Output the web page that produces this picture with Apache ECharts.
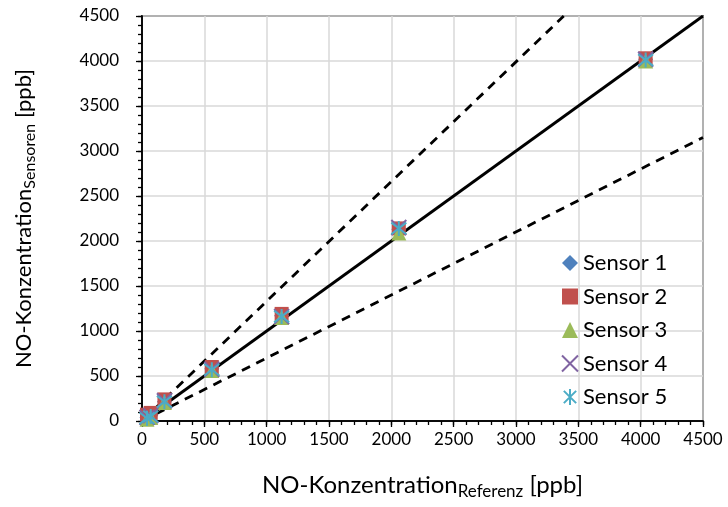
<!DOCTYPE html>
<html>
<head>
<meta charset="utf-8">
<script src="https://cdn.jsdelivr.net/npm/echarts@6/dist/echarts.min.js"></script>
<style>html,body{margin:0;padding:0;background:#fff}#c{width:728px;height:507px}</style>
</head>
<body>
<div id="c"></div>
<script>
const seriesNames = ['Sensor 1', 'Sensor 2', 'Sensor 3', 'Sensor 4', 'Sensor 5'];
const refValues = [40, 70, 180, 560, 1120, 2060, 4040];
const sensor1 = [40, 60, 215, 580, 1170, 2130, 4020];
const sensor2 = [70, 90, 240, 600, 1190, 2140, 4030];
const sensor3 = [20, 40, 205, 560, 1150, 2090, 4000];
const sensor4 = [40, 60, 225, 575, 1160, 2150, 4020];
const sensor5 = [30, 50, 215, 570, 1160, 2140, 4010];
const oneToOne = [[0, 0], [4500, 4500]];
const upperBound = [[0, 0], [3383, 4500]];
const lowerBound = [[0, 0], [4500, 3150]];
const axisTicks = [0, 500, 1000, 1500, 2000, 2500, 3000, 3500, 4000, 4500];

const colors = ['#4F81BD', '#C0504D', '#9BBB59', '#8064A2', '#4BACC6'];
const symbols = [
  'diamond',
  'rect',
  'triangle',
  'path://M0,0L10,10M10,0L0,10',
  'path://M0,0L10,10M10,0L0,10M5,-1.5L5,11.5'
];
const sizes = [15, 14, 15, 15, 15];
const allSensors = [sensor1, sensor2, sensor3, sensor4, sensor5];

const font = 'Lato, "Open Sans", "Liberation Sans", sans-serif';

const scatterSeries = allSensors.map((vals, i) => {
  const isLine = i >= 3;
  return {
    name: seriesNames[i],
    type: 'scatter',
    symbol: symbols[i],
    symbolSize: sizes[i],
    data: refValues.map((x, j) => [x, vals[j]]),
    itemStyle: isLine
      ? { color: 'rgba(0,0,0,0)', borderColor: colors[i], borderWidth: 2, opacity: 1 }
      : { color: colors[i], opacity: 1 },
    z: 3 + i
  };
});

const lineSeries = [oneToOne, upperBound, lowerBound].map((d, i) => ({
  name: 'line' + i,
  type: 'line',
  data: d,
  symbol: 'none',
  silent: true,
  z: 2,
  lineStyle: { color: '#000', width: 2.8, type: i === 0 ? 'solid' : [9, 7] }
}));

const mainAxis = {
  type: 'value',
  min: 0,
  max: 4500,
  interval: 500,
  axisLine: { show: true, lineStyle: { color: '#000', width: 1.5 } },
  axisTick: { show: true, inside: false, length: 6, lineStyle: { color: '#000', width: 1.3 } },
  splitLine: { show: true, lineStyle: { color: '#d9d9d9', width: 1.5 } },
  axisLabel: { color: '#000', fontSize: 17, fontFamily: font, formatter: v => String(v) }
};
const minorAxis = {
  type: 'value',
  min: 0,
  max: 4500,
  interval: 100,
  axisLine: { show: true, lineStyle: { color: '#000', width: 1.5 } },
  axisTick: { show: true, inside: false, length: 4, lineStyle: { color: '#000', width: 1.3 } },
  splitLine: { show: false },
  axisLabel: { show: false }
};
const xRich = {
  m: { fontSize: 24, fontFamily: font, color: '#000' },
  s: { fontSize: 17, fontFamily: font, color: '#000', padding: [12, 0, 0, 0] }
};
const yRich = {
  m: { fontSize: 22, fontFamily: font, color: '#000' },
  s: { fontSize: 16, fontFamily: font, color: '#000', padding: [12, 0, 0, 0] }
};

const chart = echarts.init(document.getElementById('c'), null, { renderer: 'canvas' });
chart.setOption({
  animation: false,
  backgroundColor: '#fff',
  grid: { left: 142, right: 25, top: 16, bottom: 86, show: true, borderColor: '#000', borderWidth: 1.5, backgroundColor: 'transparent' },
  xAxis: [
    Object.assign({}, mainAxis, {
      position: 'bottom',
      axisLabel: Object.assign({}, mainAxis.axisLabel, { margin: 10 }),
      name: '{m|NO-Konzentration}{s|Referenz}{m| [ppb]}',
      nameLocation: 'middle',
      nameGap: 50,
      nameTextStyle: { rich: xRich }
    }),
    Object.assign({}, minorAxis, { position: 'bottom' })
  ],
  yAxis: [
    Object.assign({}, mainAxis, {
      position: 'left',
      axisLabel: Object.assign({}, mainAxis.axisLabel, { margin: 23 }),
      name: '{m|NO-Konzentration}{s|Sensoren}{m| [ppb]}',
      nameLocation: 'middle',
      nameGap: 104,
      nameTextStyle: { rich: yRich }
    }),
    Object.assign({}, minorAxis, { position: 'left' })
  ],
  legend: {
    data: seriesNames,
    orient: 'vertical',
    left: 556,
    top: 247,
    itemGap: 11.5,
    itemWidth: 16,
    itemHeight: 16,
    textStyle: { fontSize: 22, fontFamily: font, color: '#000', padding: [0, 0, 0, 0] },
    backgroundColor: 'transparent'
  },
  series: lineSeries.concat(scatterSeries)
});
</script>
</body>
</html>
